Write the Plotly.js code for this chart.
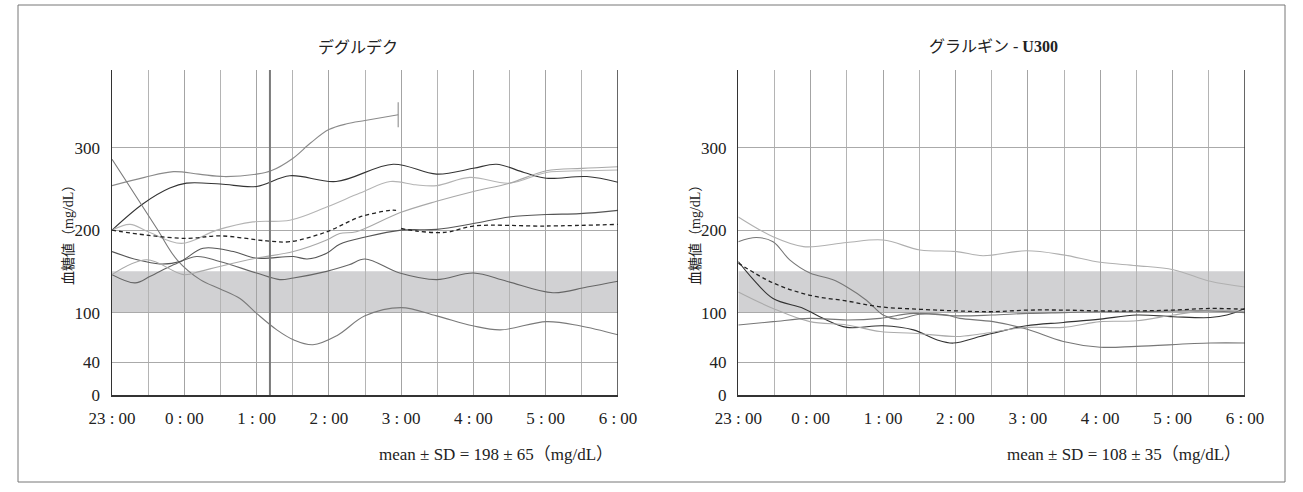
<!DOCTYPE html>
<html>
<head>
<meta charset="utf-8">
<script src="https://cdn.plot.ly/plotly-3.0.1.min.js"></script>
<style>
html,body{margin:0;padding:0;background:#fff;}
#chart{width:1303px;height:492px;}
</style>
</head>
<body>
<div id="chart"></div>
<script>
// ---- tick labels / categories ----
const hourTicks = [0, 1, 2, 3, 4, 5, 6, 7];
const hourLabels = ["23 : 00", "0 : 00", "1 : 00", "2 : 00", "3 : 00", "4 : 00", "5 : 00", "6 : 00"];
const yTicks = [0, 40, 100, 200, 300];
const targetRange = [100, 150];
const panelTitles = ["デグルデク", "グラルギン - <b>U300</b>"];
const yTitle = "血糖値（mg/dL）";
const meanTexts = ["mean ± SD = 198 ± 65（mg/dL）", "mean ± SD = 108 ± 35（mg/dL）"];
const degMarkerTime = 2.185;

// ---- Degludec (hours after 23:00, mg/dL) ----
const deg1_t = [0, 0.45, 0.85, 1.2, 1.55, 2.0, 2.2, 2.5, 2.75, 3.0, 3.25, 3.5, 3.96];
const deg1_v = [254, 264, 271, 268, 265, 268, 272, 287, 306, 322, 329, 333, 340];
const deg2_t = [0, 0.43, 0.8, 1.03, 1.5, 2.0, 2.46, 3.1, 3.89, 4.49, 5.0, 5.32, 5.7, 6.01, 6.57, 7];
const deg2_v = [200, 232, 251, 257, 256, 253, 266, 259, 280, 268, 275, 280, 270, 263, 265, 258];
const deg3_t = [0, 0.25, 0.5, 0.96, 1.45, 1.95, 2.46, 2.97, 3.43, 3.85, 4.2, 4.49, 4.95, 5.5, 6.01, 6.5, 7];
const deg3_v = [200, 207, 198, 184, 200, 210, 212, 228, 245, 259, 255, 254, 264, 257, 270, 272, 273];
const deg4_t = [0, 0.2, 0.62, 0.9, 1.22, 1.49, 1.77, 2.0, 2.28, 2.51, 2.78, 3.11, 3.5, 4.0, 4.49, 4.99, 5.37, 6.01, 6.47, 7];
const deg4_v = [286, 259, 202, 164, 140, 129, 117, 99, 79, 67, 61, 72, 96, 106, 96, 84, 79, 89, 84, 73];
const deg5_t = [0, 0.32, 0.53, 0.85, 1.17, 1.49, 2.0, 2.32, 2.51, 2.97, 3.28, 3.5, 3.98, 4.49, 5.0, 5.46, 6.1, 6.57, 7];
const deg5_v = [146, 136, 144, 158, 168, 162, 148, 140, 142, 150, 158, 165, 148, 140, 148, 138, 124, 131, 138];
const deg6_t = [0, 0.35, 0.66, 0.94, 1.26, 1.68, 2.0, 2.51, 2.7, 2.97, 3.15, 3.52, 4.0, 4.49, 5.0, 5.5, 6.01, 6.47, 7];
const deg6_v = [174, 164, 159, 162, 178, 174, 166, 168, 165, 172, 183, 192, 200, 201, 208, 216, 219, 220, 224];
const deg7_t = [0, 0.48, 0.99, 1.22, 1.49, 2.0, 2.51, 2.97, 3.15, 3.38, 3.98, 4.49, 5.0, 5.5, 6.01, 6.5, 7];
const deg7_v = [146, 164, 146, 150, 156, 166, 174, 188, 196, 198, 221, 235, 247, 257, 272, 275, 277];
const degMeanA_t = [0, 0.48, 1.03, 1.5, 2.14, 2.46, 2.97, 3.43, 3.85, 3.93];
const degMeanA_v = [200, 194, 190, 193, 187, 186, 198, 216, 224, 224];
const degMeanB_t = [4.0, 4.21, 4.49, 4.67, 5.0, 6.0, 7];
const degMeanB_v = [202, 199, 197, 198, 205, 205, 207];

// ---- Glargine U300 ----
const gla1_t = [0, 0.48, 0.9, 1.5, 2.0, 2.51, 3.02, 3.38, 3.98, 4.49, 5.0, 5.5, 6.01, 6.52, 7];
const gla1_v = [216, 192, 180, 185, 188, 176, 174, 169, 175, 170, 161, 157, 152, 138, 131];
const gla2_t = [0, 0.25, 0.48, 0.71, 0.99, 1.3, 1.5, 1.77, 2.0, 2.19, 2.51, 2.88, 3.06, 3.52, 3.98, 4.49, 5.0, 5.5, 6.52, 7];
const gla2_v = [186, 191, 186, 164, 148, 140, 131, 115, 97, 92, 98, 97, 93, 89, 80, 65, 58, 59, 63, 63];
const gla3_t = [0, 0.2, 0.48, 0.9, 1.17, 1.5, 2.0, 2.42, 2.74, 2.97, 3.34, 3.52, 3.98, 4.49, 5.0, 5.5, 6.01, 6.52, 6.75, 7];
const gla3_v = [162, 141, 117, 105, 93, 82, 84, 79, 67, 63, 71, 75, 84, 88, 92, 97, 95, 94, 97, 105];
const gla4_t = [0, 0.48, 0.99, 1.5, 1.96, 2.42, 3.02, 3.34, 3.98, 4.49, 5.0, 5.5, 6.01, 6.52, 7];
const gla4_v = [125, 105, 89, 85, 77, 75, 71, 74, 82, 82, 89, 90, 97, 103, 101];
const gla5_t = [0, 0.48, 0.99, 1.5, 1.96, 2.42, 3.02, 3.5, 4.0, 4.5, 5.0, 5.5, 6.0, 6.5, 7];
const gla5_v = [85, 89, 93, 91, 93, 99, 96, 97, 99, 100, 101, 101, 102, 102, 100];
const glaMean_t = [0, 0.48, 0.99, 1.5, 1.96, 2.51, 3.02, 3.5, 4.0, 4.5, 5.0, 5.5, 6.0, 6.52, 7];
const glaMean_v = [160, 136, 121, 114, 107, 104, 102, 101, 103, 103, 102, 102, 103, 105, 104];

// ---- build traces ----
function line(t, v, color, xa, ya, extra) {
  const tr = {
    x: t, y: v, xaxis: xa, yaxis: ya, type: 'scatter', mode: 'lines',
    line: {color: color, width: 1.1, shape: 'spline', smoothing: 1},
    hoverinfo: 'skip', showlegend: false
  };
  return Object.assign(tr, extra || {});
}
const dashStyle = {color: '#222', width: 1.3, dash: '4px,3px', shape: 'spline', smoothing: 1};

const endSizes = deg1_t.map((_, i) => i === deg1_t.length - 1 ? 18 : 0);

const traces = [
  line(deg1_t, deg1_v, '#8a8a8a', 'x', 'y', {mode: 'lines+markers',
    marker: {symbol: 'line-ns', size: endSizes, color: '#8a8a8a', line: {width: 1.5, color: '#8a8a8a'}}}),
  line(deg2_t, deg2_v, '#333333', 'x', 'y'),
  line(deg3_t, deg3_v, '#b4b4b4', 'x', 'y'),
  line(deg4_t, deg4_v, '#7a7a7a', 'x', 'y'),
  line(deg5_t, deg5_v, '#666666', 'x', 'y'),
  line(deg6_t, deg6_v, '#555555', 'x', 'y'),
  line(deg7_t, deg7_v, '#a8a8a8', 'x', 'y'),
  line(degMeanA_t, degMeanA_v, '#222', 'x', 'y', {line: dashStyle}),
  line(degMeanB_t, degMeanB_v, '#222', 'x', 'y', {line: dashStyle}),

  line(gla1_t, gla1_v, '#b0b0b0', 'x2', 'y2'),
  line(gla2_t, gla2_v, '#777777', 'x2', 'y2'),
  line(gla3_t, gla3_v, '#333333', 'x2', 'y2'),
  line(gla4_t, gla4_v, '#ababab', 'x2', 'y2'),
  line(gla5_t, gla5_v, '#777777', 'x2', 'y2'),
  line(glaMean_t, glaMean_v, '#222', 'x2', 'y2', {line: dashStyle})
];

// ---- layout ----
const W = 1303, H = 492;
const px = v => v / W, py = v => 1 - v / H;
const tickFont = {family: 'Liberation Serif, serif', size: 17, color: '#222'};

function xAxis(domain) {
  return {
    domain: domain, range: [0, 7], tickmode: 'array', tickvals: hourTicks, ticktext: hourLabels,
    showgrid: true, gridcolor: '#a4a4a4', gridwidth: 1,
    minor: {dtick: 0.5, tick0: 0, showgrid: true, gridcolor: '#b4b4b4', gridwidth: 1, ticks: ''},
    showline: true, linecolor: '#333', linewidth: 1.5, ticks: '', zeroline: false,
    tickfont: tickFont, ticklabelstandoff: 7, fixedrange: true
  };
}
function yAxis(anchor) {
  return {
    domain: [py(395), py(70)], range: [0, 394.3], anchor: anchor,
    tickmode: 'array', tickvals: yTicks, showgrid: true, gridcolor: '#aaaaaa', gridwidth: 1,
    showline: true, linecolor: '#333', linewidth: 1.5, ticks: '', zeroline: false,
    tickfont: tickFont, ticklabelstandoff: 7, fixedrange: true
  };
}

const shapes = [];
[['x', 'y'], ['x2', 'y2']].forEach(([xa, ya]) => {
  shapes.push({type: 'rect', xref: xa, yref: ya, x0: 0, x1: 7, y0: targetRange[0], y1: targetRange[1],
    fillcolor: '#d1d1d3', line: {width: 0}, layer: 'below'});
  shapes.push({type: 'line', xref: xa, yref: ya + ' domain', x0: 7, x1: 7, y0: 0, y1: 1,
    line: {color: '#333', width: 1.5}});
});
shapes.push({type: 'line', xref: 'x', yref: 'y domain', x0: degMarkerTime, x1: degMarkerTime, y0: 0, y1: 1,
  line: {color: '#7a7a7a', width: 2}});
shapes.push({type: 'rect', xref: 'paper', yref: 'paper', x0: px(18), x1: px(1285), y0: py(482), y1: py(5),
  line: {color: '#777', width: 1}, fillcolor: 'rgba(0,0,0,0)'});

const annFont = {family: 'Liberation Serif, Noto Sans CJK JP, serif', size: 17, color: '#222'};
const base = {xref: 'paper', yref: 'paper', showarrow: false, xanchor: 'center', yanchor: 'middle'};
const annotations = [
  Object.assign({}, base, {text: panelTitles[0], x: px(358), y: py(46),
    font: {family: 'Noto Sans CJK JP, sans-serif', size: 16, color: '#222'}}),
  Object.assign({}, base, {text: panelTitles[1], x: px(993), y: py(46),
    font: {family: 'Liberation Serif, Noto Sans CJK JP', size: 16, color: '#222'}}),
  Object.assign({}, base, {text: yTitle, x: px(68), y: py(232), textangle: -90,
    font: {family: 'Liberation Serif, Noto Sans CJK JP, serif', size: 14, color: '#222'}}),
  Object.assign({}, base, {text: yTitle, x: px(695), y: py(232), textangle: -90,
    font: {family: 'Liberation Serif, Noto Sans CJK JP, serif', size: 14, color: '#222'}}),
  Object.assign({}, base, {text: meanTexts[0], x: px(615), y: py(454), xanchor: 'right', font: annFont}),
  Object.assign({}, base, {text: meanTexts[1], x: px(1243), y: py(454), xanchor: 'right', font: annFont})
];

const layout = {
  width: W, height: H, margin: {l: 0, r: 0, t: 0, b: 0},
  paper_bgcolor: '#fff', plot_bgcolor: '#fff', showlegend: false,
  xaxis: xAxis([px(112), px(618)]), yaxis: yAxis('x'),
  xaxis2: Object.assign(xAxis([px(738.3), px(1245)]), {anchor: 'y2'}), yaxis2: yAxis('x2'),
  shapes: shapes, annotations: annotations
};
layout.xaxis.anchor = 'y';

Plotly.newPlot('chart', traces, layout, {staticPlot: true, displayModeBar: false});
</script>
</body>
</html>
